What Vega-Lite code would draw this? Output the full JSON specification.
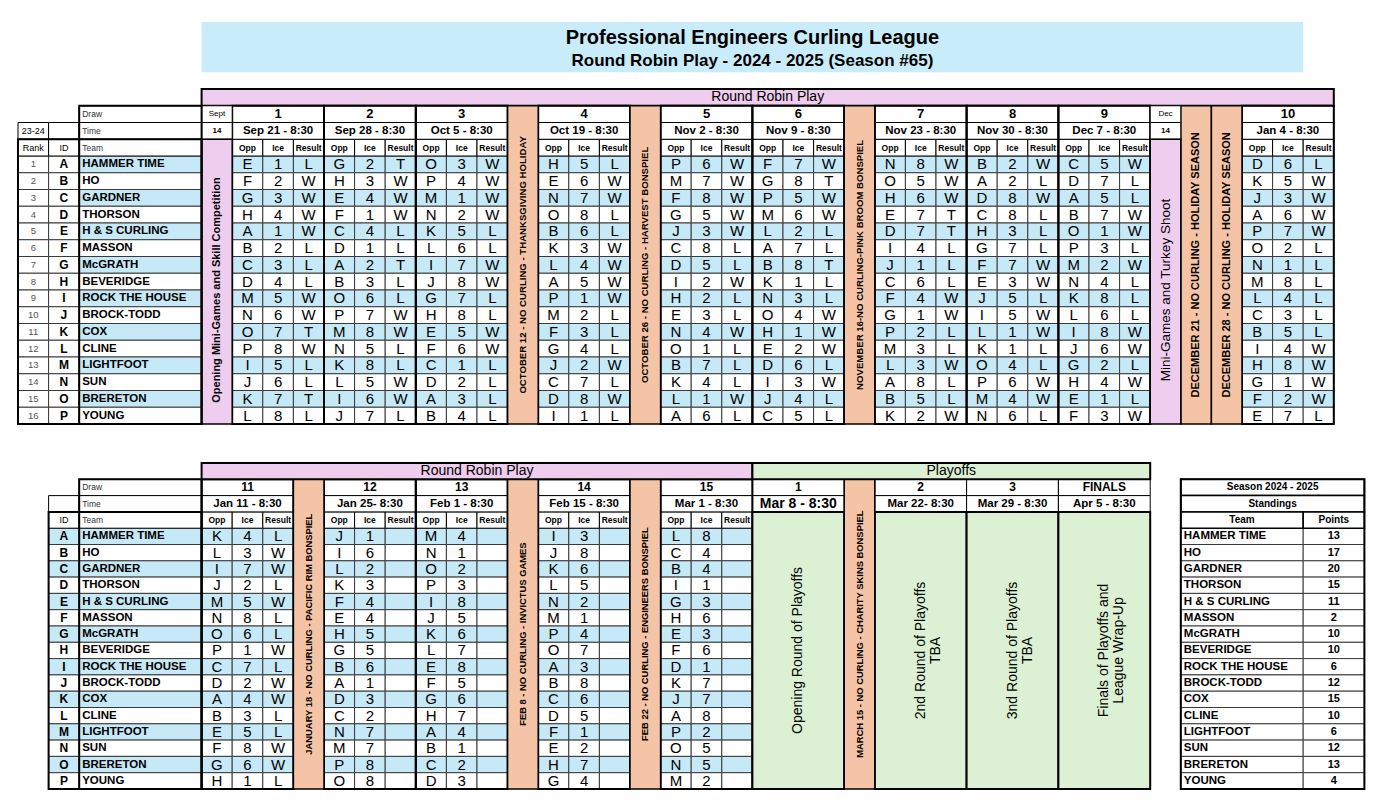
{
"$schema": "https://vega.github.io/schema/vega-lite/v6.json",
"background": "white",
"padding": {"left": 17, "top": 22, "right": 0, "bottom": 0},
"spacing": 21,
"config": {
  "view": {"stroke": null},
  "font": "Liberation Sans",
  "axis": {"disable": true},
  "legend": {"disable": true},
  "scale": {"bandPaddingInner": 0, "bandPaddingOuter": 0, "rectBandPaddingInner": 0}
},
"resolve": {"scale": {"x": "independent", "y": "independent"}},
"datasets": {
  "teams": [
    {"t":"A","rank":"1","team":"HAMMER TIME","pts":"13"},
    {"t":"B","rank":"2","team":"HO","pts":"17"},
    {"t":"C","rank":"3","team":"GARDNER","pts":"20"},
    {"t":"D","rank":"4","team":"THORSON","pts":"15"},
    {"t":"E","rank":"5","team":"H & S CURLING","pts":"11"},
    {"t":"F","rank":"6","team":"MASSON","pts":"2"},
    {"t":"G","rank":"7","team":"McGRATH","pts":"10"},
    {"t":"H","rank":"8","team":"BEVERIDGE","pts":"10"},
    {"t":"I","rank":"9","team":"ROCK THE HOUSE","pts":"6"},
    {"t":"J","rank":"10","team":"BROCK-TODD","pts":"12"},
    {"t":"K","rank":"11","team":"COX","pts":"15"},
    {"t":"L","rank":"12","team":"CLINE","pts":"10"},
    {"t":"M","rank":"13","team":"LIGHTFOOT","pts":"6"},
    {"t":"N","rank":"14","team":"SUN","pts":"12"},
    {"t":"O","rank":"15","team":"BRERETON","pts":"13"},
    {"t":"P","rank":"16","team":"YOUNG","pts":"4"}
  ],
  "heads": [{"k":"o","h":"Opp"},{"k":"i","h":"Ice"},{"k":"r","h":"Result"}],
  "draws": [
    {"d":"1","num":"1","time":"Sep 21 - 8:30","part":"top"},
    {"d":"2","num":"2","time":"Sep 28 - 8:30","part":"top"},
    {"d":"3","num":"3","time":"Oct 5 - 8:30","part":"top"},
    {"d":"4","num":"4","time":"Oct 19 - 8:30","part":"top"},
    {"d":"5","num":"5","time":"Nov 2 - 8:30","part":"top"},
    {"d":"6","num":"6","time":"Nov 9 - 8:30","part":"top"},
    {"d":"7","num":"7","time":"Nov 23 - 8:30","part":"top"},
    {"d":"8","num":"8","time":"Nov 30 - 8:30","part":"top"},
    {"d":"9","num":"9","time":"Dec 7 - 8:30","part":"top"},
    {"d":"10","num":"10","time":"Jan 4 - 8:30","part":"top"},
    {"d":"11","num":"11","time":"Jan 11 - 8:30","part":"bottom"},
    {"d":"12","num":"12","time":"Jan 25- 8:30","part":"bottom"},
    {"d":"13","num":"13","time":"Feb 1 - 8:30","part":"bottom"},
    {"d":"14","num":"14","time":"Feb 15 - 8:30","part":"bottom"},
    {"d":"15","num":"15","time":"Mar 1 - 8:30","part":"bottom"},
    {"d":"P1","num":"1","time":"Mar 8 - 8:30","part":"bottom","label":"Opening Round of Playoffs"},
    {"d":"P2","num":"2","time":"Mar 22- 8:30","part":"bottom","label":"2nd Round of Playoffs\nTBA"},
    {"d":"P3","num":"3","time":"Mar 29 - 8:30","part":"bottom","label":"3nd Round of Playoffs\nTBA"},
    {"d":"FIN","num":"FINALS","time":"Apr 5 - 8:30","part":"bottom","label":"Finals of Playoffs and\nLeague Wrap-Up"}
  ],
  "breaks": [
    {"col":"sept","kind":"mini","part":"top","head":"Sept","date":"14","label":"Opening Mini-Games and Skill Competition"},
    {"col":"oct12","kind":"hol","part":"top","label":"OCTOBER 12  - NO CURLING - THANKSGIVING HOLIDAY"},
    {"col":"oct26","kind":"hol","part":"top","label":"OCTOBER 26 - NO CURLING - HARVEST BONSPIEL"},
    {"col":"nov16","kind":"hol","part":"top","label":"NOVEMBER 16-NO CURLING-PINK BROOM BONSPIEL"},
    {"col":"dec14","kind":"mini","part":"top","head":"Dec","date":"14","label":"Mini-Games and Turkey Shoot"},
    {"col":"dec21","kind":"hol","part":"top","label":"DECEMBER 21  - NO CURLING - HOLIDAY SEASON"},
    {"col":"dec28","kind":"hol","part":"top","label":"DECEMBER 28 - NO CURLING - HOLIDAY SEASON"},
    {"col":"jan18","kind":"hol","part":"bottom","label":"JANUARY 18 - NO CURLING - PACIFIC RIM BONSPIEL"},
    {"col":"feb8","kind":"hol","part":"bottom","label":"FEB 8 - NO CURLING - INVICTUS GAMES"},
    {"col":"feb22","kind":"hol","part":"bottom","label":"FEB 22 - NO CURLING - ENGINEERS BONSPIEL"},
    {"col":"mar15","kind":"hol","part":"bottom","label":"MARCH 15 - NO CURLING - CHARITY SKINS BONSPIEL"}
  ],
  "games": [
    {"t":"A","d":"1","o":"E","i":"1","r":"L"},{"t":"B","d":"1","o":"F","i":"2","r":"W"},{"t":"C","d":"1","o":"G","i":"3","r":"W"},{"t":"D","d":"1","o":"H","i":"4","r":"W"},
    {"t":"E","d":"1","o":"A","i":"1","r":"W"},{"t":"F","d":"1","o":"B","i":"2","r":"L"},{"t":"G","d":"1","o":"C","i":"3","r":"L"},{"t":"H","d":"1","o":"D","i":"4","r":"L"},
    {"t":"I","d":"1","o":"M","i":"5","r":"W"},{"t":"J","d":"1","o":"N","i":"6","r":"W"},{"t":"K","d":"1","o":"O","i":"7","r":"T"},{"t":"L","d":"1","o":"P","i":"8","r":"W"},
    {"t":"M","d":"1","o":"I","i":"5","r":"L"},{"t":"N","d":"1","o":"J","i":"6","r":"L"},{"t":"O","d":"1","o":"K","i":"7","r":"T"},{"t":"P","d":"1","o":"L","i":"8","r":"L"},

    {"t":"A","d":"2","o":"G","i":"2","r":"T"},{"t":"B","d":"2","o":"H","i":"3","r":"W"},{"t":"C","d":"2","o":"E","i":"4","r":"W"},{"t":"D","d":"2","o":"F","i":"1","r":"W"},
    {"t":"E","d":"2","o":"C","i":"4","r":"L"},{"t":"F","d":"2","o":"D","i":"1","r":"L"},{"t":"G","d":"2","o":"A","i":"2","r":"T"},{"t":"H","d":"2","o":"B","i":"3","r":"L"},
    {"t":"I","d":"2","o":"O","i":"6","r":"L"},{"t":"J","d":"2","o":"P","i":"7","r":"W"},{"t":"K","d":"2","o":"M","i":"8","r":"W"},{"t":"L","d":"2","o":"N","i":"5","r":"L"},
    {"t":"M","d":"2","o":"K","i":"8","r":"L"},{"t":"N","d":"2","o":"L","i":"5","r":"W"},{"t":"O","d":"2","o":"I","i":"6","r":"W"},{"t":"P","d":"2","o":"J","i":"7","r":"L"},

    {"t":"A","d":"3","o":"O","i":"3","r":"W"},{"t":"B","d":"3","o":"P","i":"4","r":"W"},{"t":"C","d":"3","o":"M","i":"1","r":"W"},{"t":"D","d":"3","o":"N","i":"2","r":"W"},
    {"t":"E","d":"3","o":"K","i":"5","r":"L"},{"t":"F","d":"3","o":"L","i":"6","r":"L"},{"t":"G","d":"3","o":"I","i":"7","r":"W"},{"t":"H","d":"3","o":"J","i":"8","r":"W"},
    {"t":"I","d":"3","o":"G","i":"7","r":"L"},{"t":"J","d":"3","o":"H","i":"8","r":"L"},{"t":"K","d":"3","o":"E","i":"5","r":"W"},{"t":"L","d":"3","o":"F","i":"6","r":"W"},
    {"t":"M","d":"3","o":"C","i":"1","r":"L"},{"t":"N","d":"3","o":"D","i":"2","r":"L"},{"t":"O","d":"3","o":"A","i":"3","r":"L"},{"t":"P","d":"3","o":"B","i":"4","r":"L"},

    {"t":"A","d":"4","o":"H","i":"5","r":"L"},{"t":"B","d":"4","o":"E","i":"6","r":"W"},{"t":"C","d":"4","o":"N","i":"7","r":"W"},{"t":"D","d":"4","o":"O","i":"8","r":"L"},
    {"t":"E","d":"4","o":"B","i":"6","r":"L"},{"t":"F","d":"4","o":"K","i":"3","r":"W"},{"t":"G","d":"4","o":"L","i":"4","r":"W"},{"t":"H","d":"4","o":"A","i":"5","r":"W"},
    {"t":"I","d":"4","o":"P","i":"1","r":"W"},{"t":"J","d":"4","o":"M","i":"2","r":"L"},{"t":"K","d":"4","o":"F","i":"3","r":"L"},{"t":"L","d":"4","o":"G","i":"4","r":"L"},
    {"t":"M","d":"4","o":"J","i":"2","r":"W"},{"t":"N","d":"4","o":"C","i":"7","r":"L"},{"t":"O","d":"4","o":"D","i":"8","r":"W"},{"t":"P","d":"4","o":"I","i":"1","r":"L"},

    {"t":"A","d":"5","o":"P","i":"6","r":"W"},{"t":"B","d":"5","o":"M","i":"7","r":"W"},{"t":"C","d":"5","o":"F","i":"8","r":"W"},{"t":"D","d":"5","o":"G","i":"5","r":"W"},
    {"t":"E","d":"5","o":"J","i":"3","r":"W"},{"t":"F","d":"5","o":"C","i":"8","r":"L"},{"t":"G","d":"5","o":"D","i":"5","r":"L"},{"t":"H","d":"5","o":"I","i":"2","r":"W"},
    {"t":"I","d":"5","o":"H","i":"2","r":"L"},{"t":"J","d":"5","o":"E","i":"3","r":"L"},{"t":"K","d":"5","o":"N","i":"4","r":"W"},{"t":"L","d":"5","o":"O","i":"1","r":"L"},
    {"t":"M","d":"5","o":"B","i":"7","r":"L"},{"t":"N","d":"5","o":"K","i":"4","r":"L"},{"t":"O","d":"5","o":"L","i":"1","r":"W"},{"t":"P","d":"5","o":"A","i":"6","r":"L"},

    {"t":"A","d":"6","o":"F","i":"7","r":"W"},{"t":"B","d":"6","o":"G","i":"8","r":"T"},{"t":"C","d":"6","o":"P","i":"5","r":"W"},{"t":"D","d":"6","o":"M","i":"6","r":"W"},
    {"t":"E","d":"6","o":"L","i":"2","r":"L"},{"t":"F","d":"6","o":"A","i":"7","r":"L"},{"t":"G","d":"6","o":"B","i":"8","r":"T"},{"t":"H","d":"6","o":"K","i":"1","r":"L"},
    {"t":"I","d":"6","o":"N","i":"3","r":"L"},{"t":"J","d":"6","o":"O","i":"4","r":"W"},{"t":"K","d":"6","o":"H","i":"1","r":"W"},{"t":"L","d":"6","o":"E","i":"2","r":"W"},
    {"t":"M","d":"6","o":"D","i":"6","r":"L"},{"t":"N","d":"6","o":"I","i":"3","r":"W"},{"t":"O","d":"6","o":"J","i":"4","r":"L"},{"t":"P","d":"6","o":"C","i":"5","r":"L"},

    {"t":"A","d":"7","o":"N","i":"8","r":"W"},{"t":"B","d":"7","o":"O","i":"5","r":"W"},{"t":"C","d":"7","o":"H","i":"6","r":"W"},{"t":"D","d":"7","o":"E","i":"7","r":"T"},
    {"t":"E","d":"7","o":"D","i":"7","r":"T"},{"t":"F","d":"7","o":"I","i":"4","r":"L"},{"t":"G","d":"7","o":"J","i":"1","r":"L"},{"t":"H","d":"7","o":"C","i":"6","r":"L"},
    {"t":"I","d":"7","o":"F","i":"4","r":"W"},{"t":"J","d":"7","o":"G","i":"1","r":"W"},{"t":"K","d":"7","o":"P","i":"2","r":"L"},{"t":"L","d":"7","o":"M","i":"3","r":"L"},
    {"t":"M","d":"7","o":"L","i":"3","r":"W"},{"t":"N","d":"7","o":"A","i":"8","r":"L"},{"t":"O","d":"7","o":"B","i":"5","r":"L"},{"t":"P","d":"7","o":"K","i":"2","r":"W"},

    {"t":"A","d":"8","o":"B","i":"2","r":"W"},{"t":"B","d":"8","o":"A","i":"2","r":"L"},{"t":"C","d":"8","o":"D","i":"8","r":"W"},{"t":"D","d":"8","o":"C","i":"8","r":"L"},
    {"t":"E","d":"8","o":"H","i":"3","r":"L"},{"t":"F","d":"8","o":"G","i":"7","r":"L"},{"t":"G","d":"8","o":"F","i":"7","r":"W"},{"t":"H","d":"8","o":"E","i":"3","r":"W"},
    {"t":"I","d":"8","o":"J","i":"5","r":"L"},{"t":"J","d":"8","o":"I","i":"5","r":"W"},{"t":"K","d":"8","o":"L","i":"1","r":"W"},{"t":"L","d":"8","o":"K","i":"1","r":"L"},
    {"t":"M","d":"8","o":"O","i":"4","r":"L"},{"t":"N","d":"8","o":"P","i":"6","r":"W"},{"t":"O","d":"8","o":"M","i":"4","r":"W"},{"t":"P","d":"8","o":"N","i":"6","r":"L"},

    {"t":"A","d":"9","o":"C","i":"5","r":"W"},{"t":"B","d":"9","o":"D","i":"7","r":"L"},{"t":"C","d":"9","o":"A","i":"5","r":"L"},{"t":"D","d":"9","o":"B","i":"7","r":"W"},
    {"t":"E","d":"9","o":"O","i":"1","r":"W"},{"t":"F","d":"9","o":"P","i":"3","r":"L"},{"t":"G","d":"9","o":"M","i":"2","r":"W"},{"t":"H","d":"9","o":"N","i":"4","r":"L"},
    {"t":"I","d":"9","o":"K","i":"8","r":"L"},{"t":"J","d":"9","o":"L","i":"6","r":"L"},{"t":"K","d":"9","o":"I","i":"8","r":"W"},{"t":"L","d":"9","o":"J","i":"6","r":"W"},
    {"t":"M","d":"9","o":"G","i":"2","r":"L"},{"t":"N","d":"9","o":"H","i":"4","r":"W"},{"t":"O","d":"9","o":"E","i":"1","r":"L"},{"t":"P","d":"9","o":"F","i":"3","r":"W"},

    {"t":"A","d":"10","o":"D","i":"6","r":"L"},{"t":"B","d":"10","o":"K","i":"5","r":"W"},{"t":"C","d":"10","o":"J","i":"3","r":"W"},{"t":"D","d":"10","o":"A","i":"6","r":"W"},
    {"t":"E","d":"10","o":"P","i":"7","r":"W"},{"t":"F","d":"10","o":"O","i":"2","r":"L"},{"t":"G","d":"10","o":"N","i":"1","r":"L"},{"t":"H","d":"10","o":"M","i":"8","r":"L"},
    {"t":"I","d":"10","o":"L","i":"4","r":"L"},{"t":"J","d":"10","o":"C","i":"3","r":"L"},{"t":"K","d":"10","o":"B","i":"5","r":"L"},{"t":"L","d":"10","o":"I","i":"4","r":"W"},
    {"t":"M","d":"10","o":"H","i":"8","r":"W"},{"t":"N","d":"10","o":"G","i":"1","r":"W"},{"t":"O","d":"10","o":"F","i":"2","r":"W"},{"t":"P","d":"10","o":"E","i":"7","r":"L"},

    {"t":"A","d":"11","o":"K","i":"4","r":"L"},{"t":"B","d":"11","o":"L","i":"3","r":"W"},{"t":"C","d":"11","o":"I","i":"7","r":"W"},{"t":"D","d":"11","o":"J","i":"2","r":"L"},
    {"t":"E","d":"11","o":"M","i":"5","r":"W"},{"t":"F","d":"11","o":"N","i":"8","r":"L"},{"t":"G","d":"11","o":"O","i":"6","r":"L"},{"t":"H","d":"11","o":"P","i":"1","r":"W"},
    {"t":"I","d":"11","o":"C","i":"7","r":"L"},{"t":"J","d":"11","o":"D","i":"2","r":"W"},{"t":"K","d":"11","o":"A","i":"4","r":"W"},{"t":"L","d":"11","o":"B","i":"3","r":"L"},
    {"t":"M","d":"11","o":"E","i":"5","r":"L"},{"t":"N","d":"11","o":"F","i":"8","r":"W"},{"t":"O","d":"11","o":"G","i":"6","r":"W"},{"t":"P","d":"11","o":"H","i":"1","r":"L"},

    {"t":"A","d":"12","o":"J","i":"1","r":""},{"t":"B","d":"12","o":"I","i":"6","r":""},{"t":"C","d":"12","o":"L","i":"2","r":""},{"t":"D","d":"12","o":"K","i":"3","r":""},
    {"t":"E","d":"12","o":"F","i":"4","r":""},{"t":"F","d":"12","o":"E","i":"4","r":""},{"t":"G","d":"12","o":"H","i":"5","r":""},{"t":"H","d":"12","o":"G","i":"5","r":""},
    {"t":"I","d":"12","o":"B","i":"6","r":""},{"t":"J","d":"12","o":"A","i":"1","r":""},{"t":"K","d":"12","o":"D","i":"3","r":""},{"t":"L","d":"12","o":"C","i":"2","r":""},
    {"t":"M","d":"12","o":"N","i":"7","r":""},{"t":"N","d":"12","o":"M","i":"7","r":""},{"t":"O","d":"12","o":"P","i":"8","r":""},{"t":"P","d":"12","o":"O","i":"8","r":""},

    {"t":"A","d":"13","o":"M","i":"4","r":""},{"t":"B","d":"13","o":"N","i":"1","r":""},{"t":"C","d":"13","o":"O","i":"2","r":""},{"t":"D","d":"13","o":"P","i":"3","r":""},
    {"t":"E","d":"13","o":"I","i":"8","r":""},{"t":"F","d":"13","o":"J","i":"5","r":""},{"t":"G","d":"13","o":"K","i":"6","r":""},{"t":"H","d":"13","o":"L","i":"7","r":""},
    {"t":"I","d":"13","o":"E","i":"8","r":""},{"t":"J","d":"13","o":"F","i":"5","r":""},{"t":"K","d":"13","o":"G","i":"6","r":""},{"t":"L","d":"13","o":"H","i":"7","r":""},
    {"t":"M","d":"13","o":"A","i":"4","r":""},{"t":"N","d":"13","o":"B","i":"1","r":""},{"t":"O","d":"13","o":"C","i":"2","r":""},{"t":"P","d":"13","o":"D","i":"3","r":""},

    {"t":"A","d":"14","o":"I","i":"3","r":""},{"t":"B","d":"14","o":"J","i":"8","r":""},{"t":"C","d":"14","o":"K","i":"6","r":""},{"t":"D","d":"14","o":"L","i":"5","r":""},
    {"t":"E","d":"14","o":"N","i":"2","r":""},{"t":"F","d":"14","o":"M","i":"1","r":""},{"t":"G","d":"14","o":"P","i":"4","r":""},{"t":"H","d":"14","o":"O","i":"7","r":""},
    {"t":"I","d":"14","o":"A","i":"3","r":""},{"t":"J","d":"14","o":"B","i":"8","r":""},{"t":"K","d":"14","o":"C","i":"6","r":""},{"t":"L","d":"14","o":"D","i":"5","r":""},
    {"t":"M","d":"14","o":"F","i":"1","r":""},{"t":"N","d":"14","o":"E","i":"2","r":""},{"t":"O","d":"14","o":"H","i":"7","r":""},{"t":"P","d":"14","o":"G","i":"4","r":""},

    {"t":"A","d":"15","o":"L","i":"8","r":""},{"t":"B","d":"15","o":"C","i":"4","r":""},{"t":"C","d":"15","o":"B","i":"4","r":""},{"t":"D","d":"15","o":"I","i":"1","r":""},
    {"t":"E","d":"15","o":"G","i":"3","r":""},{"t":"F","d":"15","o":"H","i":"6","r":""},{"t":"G","d":"15","o":"E","i":"3","r":""},{"t":"H","d":"15","o":"F","i":"6","r":""},
    {"t":"I","d":"15","o":"D","i":"1","r":""},{"t":"J","d":"15","o":"K","i":"7","r":""},{"t":"K","d":"15","o":"J","i":"7","r":""},{"t":"L","d":"15","o":"A","i":"8","r":""},
    {"t":"M","d":"15","o":"P","i":"2","r":""},{"t":"N","d":"15","o":"O","i":"5","r":""},{"t":"O","d":"15","o":"N","i":"5","r":""},{"t":"P","d":"15","o":"M","i":"2","r":""}
  ]
},
"vconcat": [
{
  "width": 1346.4,
  "height": 418.75,
  "layer": [
    {
      "data": {"name": "games"},
      "transform": [
        {"filter": "toNumber(datum.d) <= 10"},
        {"fold": ["o", "i", "r"], "as": ["k", "v"]},
        {"calculate": "datum.d + datum.k", "as": "col"}
      ],
      "encoding": {
        "x": {"field": "col", "type": "nominal", "scale": {"type": "band", "paddingInner": 0, "paddingOuter": 0,
          "domain": ["rank","id","team","team2","team3","team4","sept","1o","1i","1r","2o","2i","2r","3o","3i","3r","oct12","4o","4i","4r","oct26","5o","5i","5r","6o","6i","6r","nov16","7o","7i","7r","8o","8i","8r","9o","9i","9r","dec14","dec21","dec28","10o","10i","10r","END"]}},
        "y": {"field": "t", "type": "nominal", "scale": {"type": "band", "paddingInner": 0, "paddingOuter": 0,
          "domain": ["t1","t2","t3","gap","rr","draw","time","hdr","A","B","C","D","E","F","G","H","I","J","K","L","M","N","O","P","END"]}}
      },
      "layer": [
        {"mark": {"type": "rect", "stroke": "#3a3a3a", "strokeWidth": 1},
         "encoding": {"fill": {"condition": {"test": "indexof('ACEGIKMO', datum.t) >= 0", "value": "#C6E9F7"}, "value": "#ffffff"}}},
        {"mark": {"type": "text", "fontSize": 15}, "encoding": {"text": {"field": "v"}}}
      ]
    },
    {
      "data": {"name": "teams"},
      "encoding": {"y": {"field": "t", "type": "nominal"}},
      "layer": [
        {"mark": {"type": "rect", "fill": "#ffffff", "stroke": "#3a3a3a", "strokeWidth": 1}, "encoding": {"x": {"datum": "rank"}}},
        {"mark": {"type": "text", "fontSize": 9.5, "fill": "#555555"}, "encoding": {"x": {"datum": "rank"}, "text": {"field": "rank"}}},
        {"mark": {"type": "rect", "fill": "#ffffff", "stroke": "#3a3a3a", "strokeWidth": 1}, "encoding": {"x": {"datum": "id"}}},
        {"mark": {"type": "text", "fontSize": 12, "fontWeight": "bold"}, "encoding": {"x": {"datum": "id"}, "text": {"field": "t"}}},
        {"mark": {"type": "rect", "stroke": "#3a3a3a", "strokeWidth": 1},
         "encoding": {"x": {"datum": "team", "bandPosition": 0}, "x2": {"datum": "sept", "bandPosition": 0},
                      "fill": {"condition": {"test": "indexof('ACEGIKMO', datum.t) >= 0", "value": "#C6E9F7"}, "value": "#ffffff"}}},
        {"mark": {"type": "text", "fontSize": 11.5, "fontWeight": "bold", "align": "left", "dx": 3},
         "encoding": {"x": {"datum": "team", "bandPosition": 0}, "text": {"field": "team"}}}
      ]
    },
    {
      "data": {"values": [{"l1": "Professional Engineers Curling League", "l2": "Round Robin Play - 2024 - 2025 (Season #65)"}]},
      "layer": [
        {"mark": {"type": "rect", "fill": "#C9ECFA"},
         "encoding": {"x": {"datum": "sept", "bandPosition": 0}, "x2": {"datum": "10r", "bandPosition": 0},
                      "y": {"datum": "t1", "bandPosition": 0}, "y2": {"datum": "gap", "bandPosition": 0}}},
        {"mark": {"type": "text", "fontSize": 20, "fontWeight": "bold"},
         "encoding": {"x": {"datum": "6o", "bandPosition": 0}, "y": {"datum": "t1", "bandPosition": 0.95}, "text": {"field": "l1"}}},
        {"mark": {"type": "text", "fontSize": 17, "fontWeight": "bold"},
         "encoding": {"x": {"datum": "6o", "bandPosition": 0}, "y": {"datum": "t3", "bandPosition": 0.35}, "text": {"field": "l2"}}}
      ]
    },
    {
      "data": {"values": [{"label": "Round Robin Play"}]},
      "layer": [
        {"mark": {"type": "rect", "fill": "#EFCDEE", "stroke": "#000000", "strokeWidth": 2},
         "encoding": {"x": {"datum": "sept", "bandPosition": 0}, "x2": {"datum": "END", "bandPosition": 0}, "y": {"datum": "rr"}}},
        {"mark": {"type": "text", "fontSize": 14},
         "encoding": {"x": {"datum": "6o"}, "y": {"datum": "rr"}, "text": {"field": "label"}}}
      ]
    },
    {
      "data": {"values": [{"c": "rank", "r": "time", "txt": "23-24"}, {"c": "id", "r": "time", "txt": ""}, {"c": "rank", "r": "hdr", "txt": "Rank"}, {"c": "id", "r": "hdr", "txt": "ID"}]},
      "encoding": {"x": {"field": "c", "type": "nominal"}, "y": {"field": "r", "type": "nominal"}},
      "layer": [
        {"mark": {"type": "rect", "fill": "#ffffff", "stroke": "#000000", "strokeWidth": 1}},
        {"mark": {"type": "text", "fontSize": 9}, "encoding": {"text": {"field": "txt"}}}
      ]
    },
    {
      "data": {"values": [{"r": "draw", "txt": "Draw"}, {"r": "time", "txt": "Time"}, {"r": "hdr", "txt": "Team"}]},
      "encoding": {"y": {"field": "r", "type": "nominal"}},
      "layer": [
        {"mark": {"type": "rect", "fill": "#ffffff", "stroke": "#000000", "strokeWidth": 1},
         "encoding": {"x": {"datum": "team", "bandPosition": 0}, "x2": {"datum": "sept", "bandPosition": 0}}},
        {"mark": {"type": "text", "fontSize": 8.5, "align": "left", "dx": 3, "fill": "#333333"},
         "encoding": {"x": {"datum": "team", "bandPosition": 0}, "text": {"field": "txt"}}}
      ]
    },
    {
      "data": {"name": "games"},
      "transform": [
        {"filter": "datum.t == 'A' && toNumber(datum.d) <= 10"},
        {"fold": ["o", "i", "r"], "as": ["k", "v"]},
        {"calculate": "datum.d + datum.k", "as": "col"},
        {"lookup": "k", "from": {"data": {"name": "heads"}, "key": "k", "fields": ["h"]}}
      ],
      "encoding": {"x": {"field": "col", "type": "nominal"}, "y": {"datum": "hdr"}},
      "layer": [
        {"mark": {"type": "rect", "fill": "#ffffff", "stroke": "#000000", "strokeWidth": 1}},
        {"mark": {"type": "text", "fontSize": 8.5, "fontWeight": "bold"}, "encoding": {"text": {"field": "h"}}}
      ]
    },
    {
      "data": {"name": "draws"},
      "transform": [{"filter": "datum.part == 'top'"}, {"calculate": "datum.d + 'i'", "as": "mid"}],
      "encoding": {"x": {"field": "mid", "type": "nominal"}},
      "layer": [
        {"mark": {"type": "rect", "fill": "#ffffff", "stroke": "#000000", "strokeWidth": 1, "width": {"band": 3}}, "encoding": {"y": {"datum": "draw"}}},
        {"mark": {"type": "text", "fontSize": 13, "fontWeight": "bold"}, "encoding": {"y": {"datum": "draw"}, "text": {"field": "num"}}},
        {"mark": {"type": "rect", "fill": "#ffffff", "stroke": "#000000", "strokeWidth": 1, "width": {"band": 3}}, "encoding": {"y": {"datum": "time"}}},
        {"mark": {"type": "text", "fontSize": 11.5, "fontWeight": "bold"}, "encoding": {"y": {"datum": "time"}, "text": {"field": "time"}}},
        {"mark": {"type": "rect", "fillOpacity": 0, "stroke": "#000000", "strokeWidth": 2, "width": {"band": 3}},
         "encoding": {"y": {"datum": "draw", "bandPosition": 0}, "y2": {"datum": "END", "bandPosition": 0}}}
      ]
    },
    {
      "data": {"name": "breaks"},
      "transform": [{"filter": "datum.part == 'top'"}],
      "encoding": {"x": {"field": "col", "type": "nominal"}},
      "layer": [
        {
          "transform": [{"filter": "datum.kind == 'hol'"}],
          "layer": [
            {"mark": {"type": "rect", "fill": "#F5C4A6", "stroke": "#000000", "strokeWidth": 1.5},
             "encoding": {"y": {"datum": "draw", "bandPosition": 0}, "y2": {"datum": "END", "bandPosition": 0}}},
            {"mark": {"type": "text", "angle": 270, "fontWeight": "bold"},
             "encoding": {"y": {"datum": "G"}, "text": {"field": "label"},
                          "size": {"condition": {"test": "datum.col == 'dec21' || datum.col == 'dec28'", "value": 11}, "value": 9.6}}}
          ]
        },
        {
          "transform": [{"filter": "datum.kind == 'mini'"}],
          "layer": [
            {"mark": {"type": "rect", "fill": "#ffffff", "stroke": "#000000", "strokeWidth": 1}, "encoding": {"y": {"datum": "draw"}}},
            {"mark": {"type": "text", "fontSize": 8}, "encoding": {"y": {"datum": "draw"}, "text": {"field": "head"}}},
            {"mark": {"type": "rect", "fill": "#ffffff", "stroke": "#000000", "strokeWidth": 1}, "encoding": {"y": {"datum": "time"}}},
            {"mark": {"type": "text", "fontSize": 8, "fontWeight": "bold"}, "encoding": {"y": {"datum": "time"}, "text": {"field": "date"}}},
            {"mark": {"type": "rect", "fill": "#EFCDEE", "stroke": "#000000", "strokeWidth": 1.5},
             "encoding": {"y": {"datum": "hdr", "bandPosition": 0}, "y2": {"datum": "END", "bandPosition": 0}}},
            {"transform": [{"filter": "datum.col == 'sept'"}],
             "mark": {"type": "text", "angle": 270, "fontSize": 11, "fontWeight": "bold"},
             "encoding": {"y": {"datum": "I", "bandPosition": 0}, "text": {"field": "label"}}},
            {"transform": [{"filter": "datum.col == 'dec14'"}],
             "mark": {"type": "text", "angle": 270, "fontSize": 13.5},
             "encoding": {"y": {"datum": "I", "bandPosition": 0}, "text": {"field": "label"}}}
          ]
        }
      ]
    },
    {
      "data": {"values": [{"part": "left"}]},
      "layer": [
        {"mark": {"type": "rect", "fillOpacity": 0, "stroke": "#000000", "strokeWidth": 2},
         "encoding": {"x": {"datum": "rank", "bandPosition": 0}, "x2": {"datum": "sept", "bandPosition": 0},
                      "y": {"datum": "hdr", "bandPosition": 0}, "y2": {"datum": "END", "bandPosition": 0}}},
        {"mark": {"type": "rect", "fillOpacity": 0, "stroke": "#000000", "strokeWidth": 2},
         "encoding": {"x": {"datum": "team", "bandPosition": 0}, "x2": {"datum": "sept", "bandPosition": 0},
                      "y": {"datum": "draw", "bandPosition": 0}, "y2": {"datum": "END", "bandPosition": 0}}}
      ]
    }
  ]
},
{
  "width": 1377,
  "height": 342.3,
  "layer": [
    {
      "data": {"name": "games"},
      "transform": [
        {"filter": "toNumber(datum.d) >= 11"},
        {"fold": ["o", "i", "r"], "as": ["k", "v"]},
        {"calculate": "datum.d + datum.k", "as": "col"}
      ],
      "encoding": {
        "x": {"field": "col", "type": "nominal", "scale": {"type": "band", "paddingInner": 0, "paddingOuter": 0,
          "domain": ["rank","id","team","team2","team3","team4","11o","11i","11r","jan18","12o","12i","12r","13o","13i","13r","feb8","14o","14i","14r","feb22","15o","15i","15r","P1o","P1i","P1r","mar15","P2o","P2i","P2r","P3o","P3i","P3r","FINo","FINi","FINr","gap","s1","s2","s3","s4","pts","pts2","END"]}},
        "y": {"field": "t", "type": "nominal", "scale": {"type": "band", "paddingInner": 0, "paddingOuter": 0,
          "domain": ["rr","draw","time","hdr","A","B","C","D","E","F","G","H","I","J","K","L","M","N","O","P","END"]}}
      },
      "layer": [
        {"mark": {"type": "rect", "stroke": "#3a3a3a", "strokeWidth": 1},
         "encoding": {"fill": {"condition": {"test": "indexof('ACEGIKMO', datum.t) >= 0", "value": "#C6E9F7"}, "value": "#ffffff"}}},
        {"mark": {"type": "text", "fontSize": 15}, "encoding": {"text": {"field": "v"}}}
      ]
    },
    {
      "data": {"name": "teams"},
      "encoding": {"y": {"field": "t", "type": "nominal"}},
      "layer": [
        {"mark": {"type": "rect", "stroke": "#3a3a3a", "strokeWidth": 1},
         "encoding": {"x": {"datum": "id"}, "fill": {"condition": {"test": "indexof('ACEGIKMO', datum.t) >= 0", "value": "#C6E9F7"}, "value": "#ffffff"}}},
        {"mark": {"type": "text", "fontSize": 12, "fontWeight": "bold"}, "encoding": {"x": {"datum": "id"}, "text": {"field": "t"}}},
        {"mark": {"type": "rect", "stroke": "#3a3a3a", "strokeWidth": 1},
         "encoding": {"x": {"datum": "team", "bandPosition": 0}, "x2": {"datum": "11o", "bandPosition": 0},
                      "fill": {"condition": {"test": "indexof('ACEGIKMO', datum.t) >= 0", "value": "#C6E9F7"}, "value": "#ffffff"}}},
        {"mark": {"type": "text", "fontSize": 11.5, "fontWeight": "bold", "align": "left", "dx": 3},
         "encoding": {"x": {"datum": "team", "bandPosition": 0}, "text": {"field": "team"}}},
        {"mark": {"type": "rect", "fill": "#ffffff", "stroke": "#3a3a3a", "strokeWidth": 1},
         "encoding": {"x": {"datum": "s1", "bandPosition": 0}, "x2": {"datum": "pts", "bandPosition": 0}}},
        {"mark": {"type": "text", "fontSize": 11.5, "fontWeight": "bold", "align": "left", "dx": 3},
         "encoding": {"x": {"datum": "s1", "bandPosition": 0}, "text": {"field": "team"}}},
        {"mark": {"type": "rect", "fill": "#ffffff", "stroke": "#3a3a3a", "strokeWidth": 1},
         "encoding": {"x": {"datum": "pts", "bandPosition": 0}, "x2": {"datum": "END", "bandPosition": 0}}},
        {"mark": {"type": "text", "fontSize": 11, "fontWeight": "bold"},
         "encoding": {"x": {"datum": "pts2", "bandPosition": 0}, "text": {"field": "pts"}}}
      ]
    },
    {
      "data": {"values": [{"c": "id", "r": "time", "txt": ""}, {"c": "id", "r": "hdr", "txt": "ID"}]},
      "encoding": {"x": {"field": "c", "type": "nominal"}, "y": {"field": "r", "type": "nominal"}},
      "layer": [
        {"mark": {"type": "rect", "fill": "#ffffff", "stroke": "#000000", "strokeWidth": 1}},
        {"mark": {"type": "text", "fontSize": 9}, "encoding": {"text": {"field": "txt"}}}
      ]
    },
    {
      "data": {"values": [{"r": "draw", "txt": "Draw"}, {"r": "time", "txt": "Time"}, {"r": "hdr", "txt": "Team"}]},
      "encoding": {"y": {"field": "r", "type": "nominal"}},
      "layer": [
        {"mark": {"type": "rect", "fill": "#ffffff", "stroke": "#000000", "strokeWidth": 1},
         "encoding": {"x": {"datum": "team", "bandPosition": 0}, "x2": {"datum": "11o", "bandPosition": 0}}},
        {"mark": {"type": "text", "fontSize": 8.5, "align": "left", "dx": 3, "fill": "#333333"},
         "encoding": {"x": {"datum": "team", "bandPosition": 0}, "text": {"field": "txt"}}}
      ]
    },
    {
      "data": {"name": "games"},
      "transform": [
        {"filter": "datum.t == 'A' && toNumber(datum.d) >= 11"},
        {"fold": ["o", "i", "r"], "as": ["k", "v"]},
        {"calculate": "datum.d + datum.k", "as": "col"},
        {"lookup": "k", "from": {"data": {"name": "heads"}, "key": "k", "fields": ["h"]}}
      ],
      "encoding": {"x": {"field": "col", "type": "nominal"}, "y": {"datum": "hdr"}},
      "layer": [
        {"mark": {"type": "rect", "fill": "#ffffff", "stroke": "#000000", "strokeWidth": 1}},
        {"mark": {"type": "text", "fontSize": 8.5, "fontWeight": "bold"}, "encoding": {"text": {"field": "h"}}}
      ]
    },
    {
      "data": {"name": "draws"},
      "transform": [{"filter": "datum.part == 'bottom'"}, {"calculate": "datum.d + 'i'", "as": "mid"}],
      "encoding": {"x": {"field": "mid", "type": "nominal"}},
      "layer": [
        {"mark": {"type": "rect", "fill": "#ffffff", "stroke": "#000000", "strokeWidth": 1, "width": {"band": 3}}, "encoding": {"y": {"datum": "draw"}}},
        {"mark": {"type": "text", "fontSize": 12, "fontWeight": "bold"}, "encoding": {"y": {"datum": "draw"}, "text": {"field": "num"}}},
        {"mark": {"type": "rect", "fill": "#ffffff", "stroke": "#000000", "strokeWidth": 1, "width": {"band": 3}}, "encoding": {"y": {"datum": "time"}}},
        {"mark": {"type": "text", "fontWeight": "bold"},
         "encoding": {"y": {"datum": "time"}, "text": {"field": "time"},
                      "size": {"condition": {"test": "datum.d == 'P1'", "value": 14}, "value": 11.5}}},
        {"transform": [{"filter": "!datum.label"}],
         "mark": {"type": "rect", "fillOpacity": 0, "stroke": "#000000", "strokeWidth": 2, "width": {"band": 3}},
         "encoding": {"y": {"datum": "draw", "bandPosition": 0}, "y2": {"datum": "END", "bandPosition": 0}}},
        {"transform": [{"filter": "datum.label"}],
         "mark": {"type": "rect", "fill": "#DCF0D3", "stroke": "#000000", "strokeWidth": 2, "width": {"band": 3}},
         "encoding": {"y": {"datum": "hdr", "bandPosition": 0}, "y2": {"datum": "END", "bandPosition": 0}}},
        {"transform": [{"filter": "datum.label"}],
         "mark": {"type": "text", "angle": 270, "fontSize": 14, "lineBreak": "\n", "lineHeight": 15},
         "encoding": {"y": {"datum": "H"}, "text": {"field": "label"}}}
      ]
    },
    {
      "data": {"name": "breaks"},
      "transform": [{"filter": "datum.part == 'bottom'"}],
      "encoding": {"x": {"field": "col", "type": "nominal"}},
      "layer": [
        {"mark": {"type": "rect", "fill": "#F5C4A6", "stroke": "#000000", "strokeWidth": 1.5},
         "encoding": {"y": {"datum": "draw", "bandPosition": 0}, "y2": {"datum": "END", "bandPosition": 0}}},
        {"mark": {"type": "text", "angle": 270, "fontWeight": "bold", "fontSize": 9.4},
         "encoding": {"y": {"datum": "G"}, "text": {"field": "label"}}}
      ]
    },
    {
      "data": {"values": [{"label": "Round Robin Play"}]},
      "layer": [
        {"mark": {"type": "rect", "fill": "#EFCDEE", "stroke": "#000000", "strokeWidth": 2},
         "encoding": {"x": {"datum": "11o", "bandPosition": 0}, "x2": {"datum": "P1o", "bandPosition": 0}, "y": {"datum": "rr"}}},
        {"mark": {"type": "text", "fontSize": 14},
         "encoding": {"x": {"datum": "13r", "bandPosition": 0}, "y": {"datum": "rr"}, "text": {"field": "label"}}}
      ]
    },
    {
      "data": {"values": [{"label": "Playoffs"}]},
      "layer": [
        {"mark": {"type": "rect", "fill": "#DCF0D3", "stroke": "#000000", "strokeWidth": 2},
         "encoding": {"x": {"datum": "P1o", "bandPosition": 0}, "x2": {"datum": "gap", "bandPosition": 0}, "y": {"datum": "rr"}}},
        {"mark": {"type": "text", "fontSize": 14},
         "encoding": {"x": {"datum": "P2r"}, "y": {"datum": "rr"}, "text": {"field": "label"}}}
      ]
    },
    {
      "data": {"values": [{"r": "draw", "txt": "Season 2024 - 2025"}, {"r": "time", "txt": "Standings"}]},
      "encoding": {"y": {"field": "r", "type": "nominal"}},
      "layer": [
        {"mark": {"type": "rect", "fill": "#ffffff", "stroke": "#000000", "strokeWidth": 1.5},
         "encoding": {"x": {"datum": "s1", "bandPosition": 0}, "x2": {"datum": "END", "bandPosition": 0}}},
        {"mark": {"type": "text", "fontSize": 10, "fontWeight": "bold"},
         "encoding": {"x": {"datum": "s4", "bandPosition": 0}, "text": {"field": "txt"}}}
      ]
    },
    {
      "data": {"values": [{"txt": "Team"}]},
      "layer": [
        {"mark": {"type": "rect", "fill": "#ffffff", "stroke": "#000000", "strokeWidth": 1.5},
         "encoding": {"x": {"datum": "s1", "bandPosition": 0}, "x2": {"datum": "pts", "bandPosition": 0}, "y": {"datum": "hdr"}}},
        {"mark": {"type": "text", "fontSize": 10, "fontWeight": "bold"},
         "encoding": {"x": {"datum": "s3", "bandPosition": 0}, "y": {"datum": "hdr"}, "text": {"field": "txt"}}}
      ]
    },
    {
      "data": {"values": [{"txt": "Points"}]},
      "layer": [
        {"mark": {"type": "rect", "fill": "#ffffff", "stroke": "#000000", "strokeWidth": 1.5},
         "encoding": {"x": {"datum": "pts", "bandPosition": 0}, "x2": {"datum": "END", "bandPosition": 0}, "y": {"datum": "hdr"}}},
        {"mark": {"type": "text", "fontSize": 10, "fontWeight": "bold"},
         "encoding": {"x": {"datum": "pts2", "bandPosition": 0}, "y": {"datum": "hdr"}, "text": {"field": "txt"}}}
      ]
    },
    {
      "data": {"values": [{"part": "frames"}]},
      "layer": [
        {"mark": {"type": "rect", "fillOpacity": 0, "stroke": "#000000", "strokeWidth": 2},
         "encoding": {"x": {"datum": "id", "bandPosition": 0}, "x2": {"datum": "11o", "bandPosition": 0},
                      "y": {"datum": "hdr", "bandPosition": 0}, "y2": {"datum": "END", "bandPosition": 0}}},
        {"mark": {"type": "rect", "fillOpacity": 0, "stroke": "#000000", "strokeWidth": 2},
         "encoding": {"x": {"datum": "team", "bandPosition": 0}, "x2": {"datum": "11o", "bandPosition": 0},
                      "y": {"datum": "draw", "bandPosition": 0}, "y2": {"datum": "END", "bandPosition": 0}}},
        {"mark": {"type": "rect", "fillOpacity": 0, "stroke": "#000000", "strokeWidth": 2},
         "encoding": {"x": {"datum": "s1", "bandPosition": 0}, "x2": {"datum": "END", "bandPosition": 0},
                      "y": {"datum": "draw", "bandPosition": 0}, "y2": {"datum": "END", "bandPosition": 0}}}
      ]
    }
  ]
}
]
}
